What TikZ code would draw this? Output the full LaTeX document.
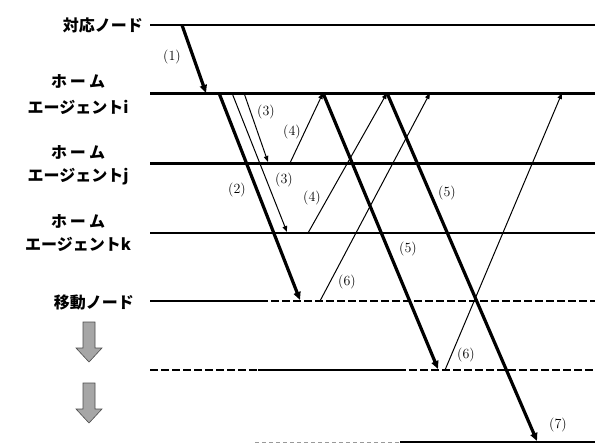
\documentclass[tikz,border=0pt]{standalone}
\usepackage{fontspec}
\newfontfamily\jp{Noto Sans CJK JP}
\usetikzlibrary{arrows.meta}
\begin{document}
\begin{tikzpicture}[x=1pt,y=-1pt,
  lbl/.style={font=\jp\bfseries\fontsize{16}{18}\selectfont, inner sep=0pt},
  num/.style={font=\fontsize{14}{15}\selectfont, inner sep=0pt},
  thick arr/.style={line width=3.2pt, -{Triangle[length=8pt,width=7pt]}},
  thin arr/.style={line width=1pt, -{Triangle[length=6pt,width=4.5pt]}},
  mndash/.style={line width=1.2pt, dash pattern=on 8pt off 3pt},
  blockarrow/.style={draw=black!70, line width=0.6pt, fill=black!35}
]
\useasboundingbox (0,0) rectangle (595,445);

% horizontal lines
\coordinate (cnL) at (150,25);  \coordinate (cnR) at (595,25);
\coordinate (hiL) at (150,93);  \coordinate (hiR) at (595,93);
\coordinate (hjL) at (150,163); \coordinate (hjR) at (595,163);
\coordinate (hkL) at (150,233); \coordinate (hkR) at (595,233);
\draw[line width=2pt] (cnL) -- (cnR);
\draw[line width=3pt] (hiL) -- (hiR);
\draw[line width=3pt] (hjL) -- (hjR);
\draw[line width=2.2pt] (hkL) -- (hkR);

% mobile node lines
\coordinate (m1a) at (150,301); \coordinate (m1b) at (260,301); \coordinate (m1c) at (595,301);
\coordinate (m2a) at (150,370); \coordinate (m2b) at (258,370); \coordinate (m2c) at (398,370); \coordinate (m2d) at (595,370);
\coordinate (m3a) at (255,442); \coordinate (m3b) at (400,442); \coordinate (m3c) at (595,442);
\draw[line width=1.6pt] (m1a) -- (m1b);
\draw[mndash] (m1b) -- (m1c);
\draw[mndash] (m2a) -- (m2b);
\draw[line width=1.6pt] (m2b) -- (m2c);
\draw[mndash] (m2c) -- (m2d);
\draw[line width=0.6pt, black!40, dash pattern=on 4pt off 3pt] (m3a) -- (m3b);
\draw[line width=1.6pt] (m3b) -- (m3c);

% left labels
\node[lbl, anchor=east] (cn) at (143,25) {対応ノード};
\node[lbl] (hi1) at (78,81) {ホ\hspace{3pt}ー\hspace{3pt}ム};
\node[lbl] (hi2) at (78,107) {エージェントi};
\node[lbl] (hj1) at (78,152) {ホ\hspace{3pt}ー\hspace{3pt}ム};
\node[lbl] (hj2) at (78,177) {エージェントj};
\node[lbl] (hk1) at (78,221) {ホ\hspace{3pt}ー\hspace{3pt}ム};
\node[lbl] (hk2) at (78,244) {エージェントk};
\node[lbl, anchor=east] (mn) at (134,302) {移動ノード};

% gray block arrows
\draw[blockarrow] (83,322) -- (95,322) -- (95,348) -- (102,348) -- (89,362) -- (76,348) -- (83,348) -- cycle;
\draw[blockarrow] (83,383) -- (95,383) -- (95,409) -- (102,409) -- (89,423) -- (76,409) -- (83,409) -- cycle;

% message end points
\coordinate (p1s) at (182,25);  \coordinate (p1e) at (206,93);
\coordinate (p2s) at (219,93);  \coordinate (p2e) at (300,300);
\coordinate (p3as) at (232,93); \coordinate (p3ae) at (287,232);
\coordinate (p3bs) at (244,93); \coordinate (p3be) at (268,162);
\coordinate (p4as) at (290,163); \coordinate (p4ae) at (323,93);
\coordinate (p4bs) at (308,233); \coordinate (p4be) at (387,93);
\coordinate (p5as) at (323,93); \coordinate (p5ae) at (438,369);
\coordinate (p5bs) at (387,93); \coordinate (p5be) at (537,441);
\coordinate (p6as) at (320,301); \coordinate (p6ae) at (430,93);
\coordinate (p6bs) at (445,370); \coordinate (p6be) at (562,93);

\draw[thick arr] (p1s) -- (p1e);
\draw[thick arr] (p2s) -- (p2e);
\draw[thin arr] (p3as) -- (p3ae);
\draw[thin arr] (p3bs) -- (p3be);
\draw[thin arr] (p4as) -- (p4ae);
\draw[thin arr] (p4bs) -- (p4be);
\draw[thin arr] (p6as) -- (p6ae);
\draw[thin arr] (p6bs) -- (p6be);
\draw[thick arr] (p5as) -- (p5ae);
\draw[thick arr] (p5bs) -- (p5be);

% message labels
\node[num] (l1) at (172,57) {(1)};
\node[num] (l2) at (237,190) {(2)};
\node[num] (l3a) at (266,112) {(3)};
\node[num] (l3b) at (284,180) {(3)};
\node[num] (l4a) at (292,132) {(4)};
\node[num] (l4b) at (312,198) {(4)};
\node[num] (l5a) at (447,193) {(5)};
\node[num] (l5b) at (408,249) {(5)};
\node[num] (l6a) at (347,282) {(6)};
\node[num] (l6b) at (466,355) {(6)};
\node[num] (l7) at (558,425) {(7)};
\end{tikzpicture}
\end{document}
